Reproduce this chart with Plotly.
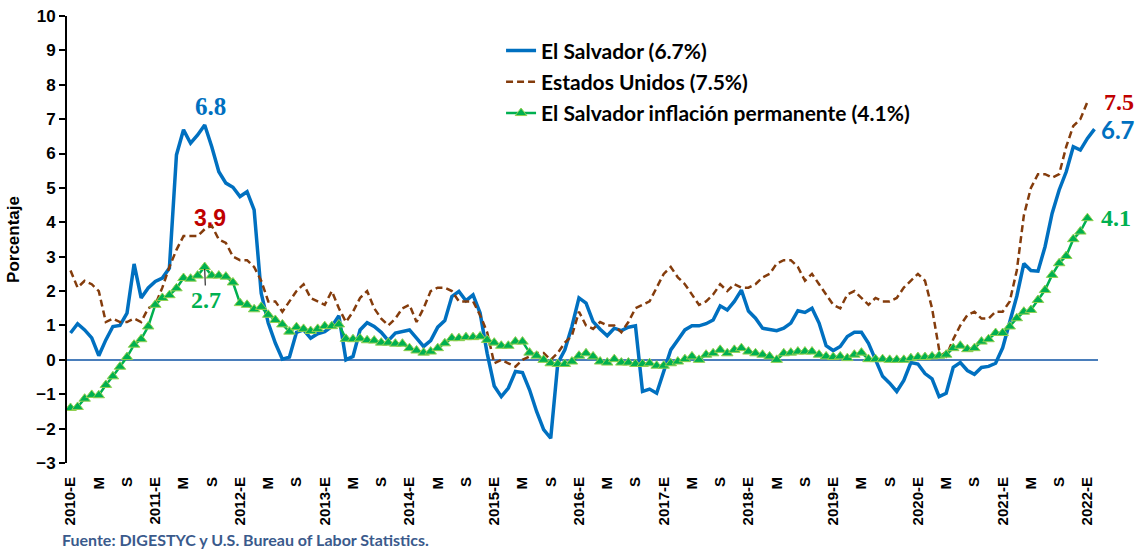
import plotly.graph_objects as go

# ---------------- data ----------------
YEARS = list(range(2010, 2023))
MONTH_LETTERS = ["E", "F", "M", "A", "M", "J", "J", "A", "S", "O", "N", "D"]
# monthly categories: Jan 2010 .. Feb 2022
periods = [f"{y}-{m + 1:02d}" for y in YEARS for m in range(12)][:146]

el_salvador = [
    0.78, 1.05, 0.87, 0.64, 0.12, 0.58, 0.97, 1.00, 1.36, 2.79, 1.80, 2.09,
    2.28, 2.38, 2.67, 5.96, 6.69, 6.30, 6.54, 6.83, 6.20, 5.47, 5.14, 5.02,
    4.75, 4.89, 4.36, 1.94, 1.07, 0.49, 0.02, 0.08, 0.80, 0.87, 0.63, 0.76,
    0.82, 0.97, 1.28, 0.00, 0.10, 0.87, 1.08, 0.97, 0.80, 0.56, 0.78, 0.82,
    0.87, 0.63, 0.39, 0.56, 0.95, 1.14, 1.84, 1.99, 1.72, 1.89, 1.36, 0.19,
    -0.76, -1.07, -0.82, -0.34, -0.37, -0.87, -1.50, -2.03, -2.28, -0.10, 0.29, 0.97,
    1.80, 1.65, 1.11, 0.89, 0.70, 0.92, 0.85, 0.95, 0.99, -0.92, -0.85, -0.97,
    -0.31, 0.29, 0.58, 0.87, 0.99, 0.99, 1.05, 1.16, 1.57, 1.45, 1.70, 2.03,
    1.42, 1.21, 0.92, 0.89, 0.85, 0.92, 1.07, 1.43, 1.38, 1.50, 1.07, 0.41,
    0.27, 0.39, 0.68, 0.80, 0.80, 0.48, 0.02, -0.48, -0.68, -0.92, -0.60, -0.08,
    -0.12, -0.40, -0.55, -1.07, -0.97, -0.22, -0.08, -0.31, -0.42, -0.22, -0.19, -0.10,
    0.35, 1.10, 1.85, 2.80, 2.60, 2.58, 3.29, 4.26, 4.94, 5.47, 6.20, 6.10,
    6.44, 6.71,
]

estados_unidos = [
    2.6, 2.1, 2.3, 2.2, 2.0, 1.1, 1.2, 1.1, 1.1, 1.2, 1.1, 1.5,
    1.6, 2.1, 2.7, 3.2, 3.6, 3.6, 3.6, 3.8, 3.9, 3.5, 3.4, 3.0,
    2.9, 2.9, 2.7, 2.3, 1.7, 1.7, 1.4, 1.7, 2.0, 2.2, 1.8, 1.7,
    1.6, 2.0, 1.5, 1.1, 1.4, 1.8, 2.0, 1.5, 1.2, 1.0, 1.2, 1.5,
    1.6, 1.1, 1.5, 2.0, 2.1, 2.1, 2.0, 1.7, 1.7, 1.7, 1.3, 0.8,
    -0.1, 0.0, -0.1, -0.2, 0.0, 0.1, 0.2, 0.2, 0.0, 0.2, 0.5, 0.7,
    1.4, 1.0, 0.9, 1.1, 1.0, 1.0, 0.8, 1.1, 1.5, 1.6, 1.7, 2.1,
    2.5, 2.7, 2.4, 2.2, 1.9, 1.6, 1.7, 1.9, 2.2, 2.0, 2.2, 2.1,
    2.1, 2.2, 2.4, 2.5, 2.8, 2.9, 2.9, 2.7, 2.3, 2.5, 2.2, 1.9,
    1.6, 1.5, 1.9, 2.0, 1.8, 1.6, 1.8, 1.7, 1.7, 1.8, 2.1, 2.3,
    2.5, 2.3, 1.5, 0.3, 0.1, 0.6, 1.0, 1.3, 1.4, 1.2, 1.2, 1.4,
    1.4, 1.7, 2.6, 4.2, 5.0, 5.4, 5.4, 5.3, 5.4, 6.2, 6.8, 7.0,
    7.5, None,
]

permanente = [
    -1.40, -1.37, -1.13, -1.02, -1.03, -0.73, -0.48, -0.20, 0.08, 0.44, 0.60, 0.97,
    1.60, 1.80, 1.88, 2.08, 2.38, 2.36, 2.45, 2.70, 2.45, 2.45, 2.42, 2.25,
    1.65, 1.60, 1.47, 1.54, 1.31, 1.16, 1.03, 0.82, 0.95, 0.90, 0.84, 0.90,
    0.98, 0.98, 1.03, 0.61, 0.60, 0.62, 0.57, 0.56, 0.50, 0.50, 0.47, 0.47,
    0.34, 0.27, 0.21, 0.24, 0.34, 0.48, 0.63, 0.63, 0.66, 0.66, 0.68, 0.58,
    0.50, 0.41, 0.41, 0.53, 0.53, 0.21, 0.12, 0.00, -0.10, -0.12, -0.12, -0.05,
    0.12, 0.19, 0.10, -0.05, -0.08, 0.02, -0.08, -0.08, -0.12, -0.12, -0.10, -0.17,
    -0.17, -0.10, -0.05, 0.02, 0.10, 0.00, 0.15, 0.19, 0.29, 0.19, 0.29, 0.34,
    0.24, 0.19, 0.15, 0.10, 0.00, 0.19, 0.21, 0.24, 0.24, 0.24, 0.15, 0.10,
    0.08, 0.10, 0.05, 0.15, 0.21, 0.02, 0.02, 0.02, 0.00, 0.00, 0.00, 0.05,
    0.08, 0.08, 0.10, 0.12, 0.15, 0.34, 0.41, 0.31, 0.34, 0.53, 0.60, 0.78,
    0.78, 0.97, 1.21, 1.40, 1.45, 1.74, 2.03, 2.47, 2.81, 3.02, 3.51, 3.73,
    4.12, None,
]

# tick labels every 4 months: "YYYY-E", "M", "S"
tick_vals = [p for i, p in enumerate(periods) if i % 4 == 0]
tick_text = []
for i, p in enumerate(periods):
    if i % 4 == 0:
        y, m = p.split("-")
        letter = MONTH_LETTERS[int(m) - 1]
        tick_text.append(f"{y}-{letter}" if m == "01" else letter)

# ---------------- styles ----------------
BLUE = "#0070C0"
BROWN = "#843C0C"
GREEN = "#00B050"
RED = "#C00000"
SANS = "Liberation Sans, Arial, sans-serif"
SERIF = "Liberation Serif, Times New Roman, serif"
LEG = "Lato, Calibri, sans-serif"


def last_valid(vals):
    idx = max(i for i, v in enumerate(vals) if v is not None)
    return idx, vals[idx]


es_last_i, es_last = last_valid(el_salvador)
us_last_i, us_last = last_valid(estados_unidos)
pe_last_i, pe_last = last_valid(permanente)

fig = go.Figure()
fig.add_trace(go.Scatter(
    x=periods, y=el_salvador, mode="lines",
    name=f"El Salvador ({es_last:.1f}%)", legendgroup="a",
    line=dict(color=BLUE, width=3.5),
))
fig.add_trace(go.Scatter(
    x=periods, y=estados_unidos, mode="lines",
    name=f"Estados Unidos ({us_last:.1f}%)", legendgroup="b",
    line=dict(color=BROWN, width=2.5, dash="7px,4px"),
))
fig.add_trace(go.Scatter(
    x=periods, y=permanente, mode="lines+markers",
    name=f"El Salvador inflación permanente ({pe_last:.1f}%)", legendgroup="c",
    line=dict(color=GREEN, width=2.5),
    marker=dict(symbol="triangle-up", size=10, color=GREEN,
                line=dict(color="#92D050", width=1)),
))

# annotations derived from data
es_pk = max(range(36), key=lambda i: el_salvador[i])
us_pk = max(range(36), key=lambda i: estados_unidos[i])
pe_pk = max(range(36), key=lambda i: permanente[i])

ann = [
    dict(x=periods[es_pk], y=el_salvador[es_pk], text=f"{el_salvador[es_pk]:.1f}",
         font=dict(family=SERIF, size=25, color=BLUE, weight="bold"),
         showarrow=False, xshift=6, yshift=19),
    dict(x=periods[us_pk], y=estados_unidos[us_pk], text=f"{estados_unidos[us_pk]:.1f}",
         font=dict(family=SANS, size=23, color=RED, weight="bold"),
         showarrow=False, xshift=-2, yshift=8),
    dict(x=periods[pe_pk], y=permanente[pe_pk], text=f"{permanente[pe_pk]:.1f}",
         font=dict(family=SERIF, size=24, color=GREEN, weight="bold"),
         showarrow=True, arrowhead=0, arrowwidth=1, arrowcolor="black",
         ax=1, ay=33, standoff=2),
    dict(x=periods[us_last_i], y=us_last, text=f"{us_last:.1f}",
         font=dict(family=SERIF, size=24, color=RED, weight="bold"),
         showarrow=False, xshift=32, yshift=0),
    dict(x=periods[es_last_i], y=es_last, text=f"{es_last:.1f}",
         font=dict(family=LEG, size=24, color=BLUE, weight="bold"),
         showarrow=False, xshift=24, yshift=0),
    dict(x=periods[pe_last_i], y=pe_last, text=f"{pe_last:.1f}",
         font=dict(family=SERIF, size=24, color=GREEN, weight="bold"),
         showarrow=False, xshift=29, yshift=0),
    dict(xref="paper", yref="paper", x=-0.007, y=-0.172, xanchor="left", yanchor="middle",
         text="Fuente: DIGESTYC y U.S. Bureau of Labor Statistics.",
         font=dict(family=LEG, size=16, color="#3A5A8C", weight="bold"),
         showarrow=False),
]

fig.update_layout(
    width=1138, height=554,
    margin=dict(l=67, r=40, t=16, b=91),
    paper_bgcolor="white", plot_bgcolor="white",
    showlegend=True,
    legend=dict(x=0.421, y=0.968, xanchor="left", yanchor="top",
                font=dict(family=LEG, size=21, color="black", weight="bold"),
                bgcolor="rgba(0,0,0,0)", traceorder="grouped", tracegroupgap=1,
                itemwidth=30),
    annotations=ann,
)

fig.update_xaxes(
    type="category", range=[-0.5, len(periods) - 0.5], automargin=False,
    tickmode="array", tickvals=tick_vals, ticktext=tick_text,
    tickangle=-90, ticks="", showline=False, showgrid=False, zeroline=False,
    ticklabelstandoff=10,
    tickfont=dict(family=SANS, size=15, color="black", weight="bold"),
)
fig.update_yaxes(
    range=[-3, 10], dtick=1, tick0=0, automargin=False,
    showgrid=False, showline=True, linecolor="black", linewidth=2,
    ticks="outside", ticklen=6, tickwidth=2, tickcolor="black",
    zeroline=True, zerolinecolor="#4A7EBB", zerolinewidth=2,
    tickfont=dict(family=SANS, size=17, color="black", weight="bold"),
    title=dict(text="Porcentaje", standoff=12,
               font=dict(family=SANS, size=17, color="black", weight="bold")),
)

fig.write_html("out.html", config={"displayModeBar": False},
               post_script="document.body.style.margin='0';")
